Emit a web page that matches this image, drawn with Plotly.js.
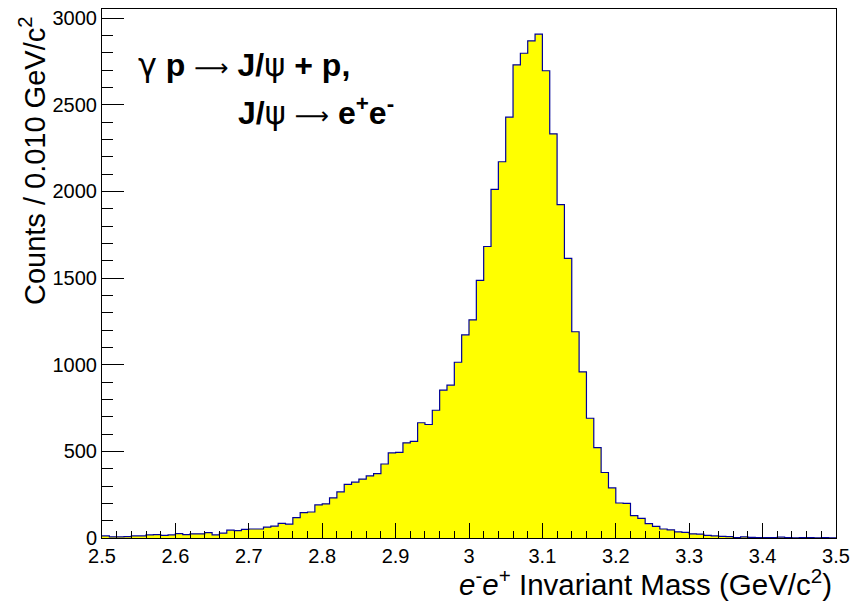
<!DOCTYPE html>
<html>
<head>
<meta charset="utf-8">
<script src="https://cdn.plot.ly/plotly-3.0.1.min.js"></script>
<style>html,body{margin:0;padding:0;background:#fff;}#chart{width:854px;height:606px;}</style>
</head>
<body>
<div id="chart"></div>
<script>
// e- e+ invariant mass histogram, 100 bins of 0.010 GeV/c^2 from 2.5 to 3.5
const BIN_LO = 2.5;
const BIN_WIDTH = 0.01;
const counts = [
  12, 7, 7, 8, 12, 12, 18, 20, 15, 18,
  25, 20, 24, 24, 31, 18, 28, 45, 42, 50,
  52, 52, 63, 69, 84, 80, 118, 146, 150, 191,
  197, 232, 266, 309, 322, 340, 358, 372, 427, 491,
  494, 549, 558, 665, 655, 737, 853, 882, 1014, 1172,
  1259, 1486, 1682, 2012, 2171, 2428, 2730, 2797, 2869, 2907,
  2696, 2332, 1924, 1613, 1190, 959, 691, 522, 378, 289,
  202, 200, 129, 113, 83, 67, 52, 47, 35, 33,
  24, 22, 15, 12, 9, 8, 3, 6, 4, 3,
  3, 2, 5, 2, 1, 3, 2, 1, 2, 1
];
const xTickVals = [2.5, 2.6, 2.7, 2.8, 2.9, 3.0, 3.1, 3.2, 3.3, 3.4, 3.5];
const xTickText = ["2.5", "2.6", "2.7", "2.8", "2.9", "3", "3.1", "3.2", "3.3", "3.4", "3.5"];
const yTickVals = [0, 500, 1000, 1500, 2000, 2500, 3000];
const yTickText = ["0", "500", "1000", "1500", "2000", "2500", "3000"];

// step outline: left edges + final right edge
const edges = counts.map((_, i) => +(BIN_LO + i * BIN_WIDTH).toFixed(4));
edges.push(+(BIN_LO + counts.length * BIN_WIDTH).toFixed(4));
const stepY = counts.concat([counts[counts.length - 1]]);

const FONT = "Liberation Sans, Arial, Helvetica, sans-serif";
const SYM = "font-family:'DejaVu Sans';font-weight:normal";
const ARROW = "<span style=\"font-family:'DejaVu Sans';font-weight:normal;font-size:24px\">⟶</span>";

const trace = {
  type: "scatter",
  mode: "lines",
  x: edges,
  y: stepY,
  line: {shape: "hv", color: "#000099", width: 1.2},
  fill: "tozeroy",
  fillcolor: "#ffff00",
  hoverinfo: "x+y",
  showlegend: false
};

const maxCount = Math.max(...counts);

const layout = {
  width: 854,
  height: 606,
  margin: {l: 102, r: 18, t: 9, b: 68},
  paper_bgcolor: "#ffffff",
  plot_bgcolor: "#ffffff",
  font: {family: FONT, color: "#000000", size: 20},
  showlegend: false,
  xaxis: {
    range: [2.5, 3.5],
    tickvals: xTickVals,
    ticktext: xTickText,
    ticks: "inside",
    ticklen: 15,
    tickwidth: 1,
    tickcolor: "#000000",
    minor: {dtick: 0.02, tick0: 2.5, ticks: "inside", ticklen: 7.5, tickwidth: 1, tickcolor: "#000000", showgrid: false},
    showline: true,
    mirror: true,
    linecolor: "#000000",
    linewidth: 1,
    showgrid: false,
    zeroline: false,
    tickfont: {family: FONT, size: 20, color: "#000000"}
  },
  yaxis: {
    range: [0, maxCount * 1.05],
    tickvals: yTickVals,
    ticktext: yTickText,
    ticks: "inside",
    ticklen: 22,
    tickwidth: 1,
    tickcolor: "#000000",
    minor: {dtick: 100, tick0: 0, ticks: "inside", ticklen: 11, tickwidth: 1, tickcolor: "#000000", showgrid: false},
    showline: true,
    mirror: true,
    linecolor: "#000000",
    linewidth: 1,
    showgrid: false,
    zeroline: false,
    tickfont: {family: FONT, size: 20, color: "#000000"}
  },
  annotations: [
    {
      xref: "paper", yref: "paper",
      x: 0.9973, y: -0.0845, xanchor: "right", yanchor: "middle",
      text: "<i>e</i><sup>-</sup><i>e</i><sup>+</sup> Invariant Mass (GeV/c<sup>2</sup>)",
      showarrow: false,
      font: {family: FONT, size: 29.5, color: "#000000"}
    },
    {
      xref: "paper", yref: "paper",
      x: -0.095, y: 0.99, xanchor: "center", yanchor: "top",
      textangle: -90,
      text: "Counts / 0.010 GeV/c<sup>2</sup>",
      showarrow: false,
      font: {family: FONT, size: 29, color: "#000000"}
    },
    {
      xref: "paper", yref: "paper",
      x: 0.046, y: 0.895, xanchor: "left", yanchor: "middle",
      text: "<span style=\"" + SYM + "\">γ</span> <b>p</b> " + ARROW + " <b>J/</b><span style=\"" + SYM + "\">ψ</span> <b>+ p,</b>",
      showarrow: false,
      font: {family: FONT, size: 32, color: "#000000"}
    },
    {
      xref: "paper", yref: "paper",
      x: 0.183, y: 0.807, xanchor: "left", yanchor: "middle",
      text: "<b>J/</b><span style=\"" + SYM + "\">ψ</span> " + ARROW + " <b>e<sup>+</sup>e<sup>-</sup></b>",
      showarrow: false,
      font: {family: FONT, size: 32, color: "#000000"}
    }
  ]
};

Plotly.newPlot("chart", [trace], layout, {staticPlot: true, displayModeBar: false});
</script>
</body>
</html>
